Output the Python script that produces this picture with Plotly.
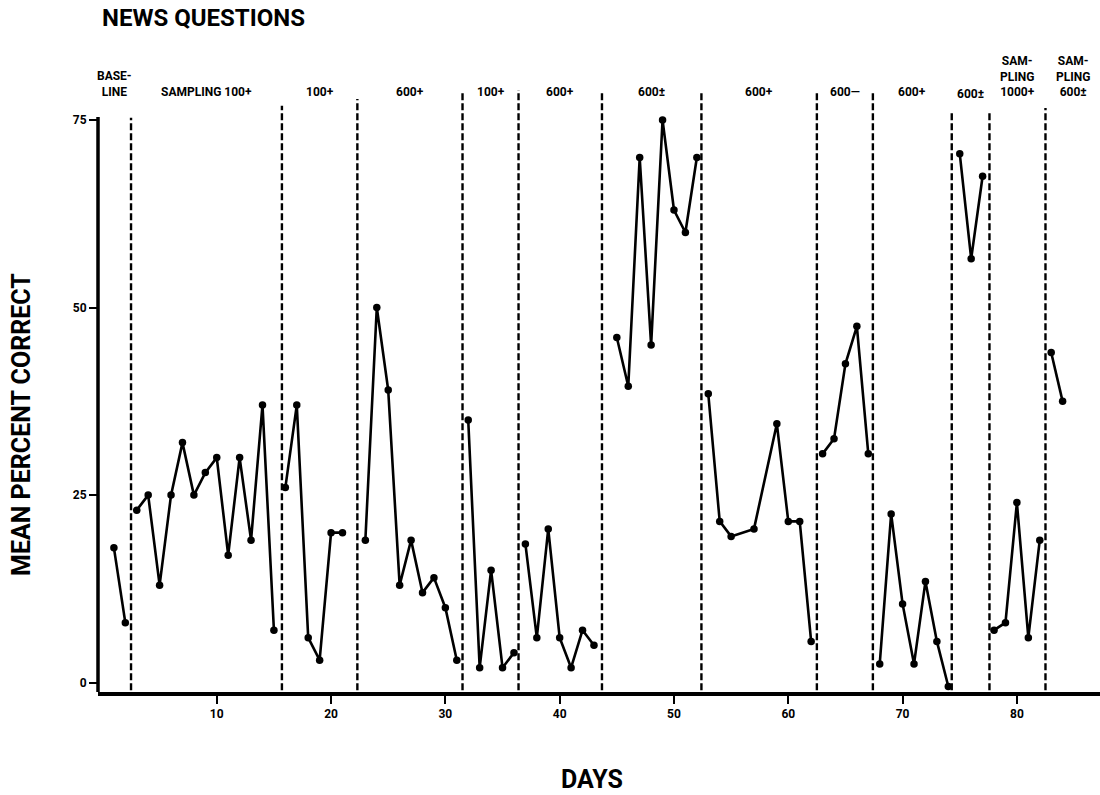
import plotly.graph_objects as go

# ---- data: mean percent correct per day, grouped by experimental phase ----
phase_names = [
    ["BASE-", "LINE"], ["SAMPLING 100+"], ["100+"], ["600+"], ["100+"], ["600+"],
    ["600±"], ["600+"], ["600—"], ["600+"], ["600±"],
    ["SAM-", "PLING", "1000+"], ["SAM-", "PLING", "600±"],
]
phase_days = [
    [1, 2],
    [3, 4, 5, 6, 7, 8, 9, 10, 11, 12, 13, 14, 15],
    [16, 17, 18, 19, 20, 21],
    [23, 24, 25, 26, 27, 28, 29, 30, 31],
    [32, 33, 34, 35, 36],
    [37, 38, 39, 40, 41, 42, 43],
    [45, 46, 47, 48, 49, 50, 51, 52],
    [53, 54, 55, 57, 59, 60, 61, 62],
    [63, 64, 65, 66, 67],
    [68, 69, 70, 71, 72, 73, 74],
    [75, 76, 77],
    [78, 79, 80, 81, 82],
    [83, 84],
]
phase_values = [
    [18, 8],
    [23, 25, 13, 25, 32, 25, 28, 30, 17, 30, 19, 37, 7],
    [26, 37, 6, 3, 20, 20],
    [19, 50, 39, 13, 19, 12, 14, 10, 3],
    [35, 2, 15, 2, 4],
    [18.5, 6, 20.5, 6, 2, 7, 5],
    [46, 39.5, 70, 45, 75, 63, 60, 70],
    [38.5, 21.5, 19.5, 20.5, 34.5, 21.5, 21.5, 5.5],
    [30.5, 32.5, 42.5, 47.5, 30.5],
    [2.5, 22.5, 10.5, 2.5, 13.5, 5.5, -0.5],
    [70.5, 56.5, 67.5],
    [7, 8, 24, 6, 19],
    [44, 37.5],
]
# days at which the phase changes (dashed separators)
phase_breaks = [2.5, 15.7, 22.3, 31.5, 36.4, 43.7, 52.4, 62.5, 67.4, 74.3, 77.6, 82.5]
x_ticks = [10, 20, 30, 40, 50, 60, 70, 80]
y_ticks = [0, 25, 50, 75]

# ---- layout geometry ----
W, H = 1100, 795
M_L, M_R, M_T, M_B = 98, 0, 85, 103
X_RANGE = [-0.39, 87.27]
Y_RANGE = [-1.24, 79.66]
FONT = "Roboto, Liberation Sans, sans-serif"


def fnt(size):
    return dict(family=FONT, size=size, color="black", weight="bold")


def paper_y(py):
    """Convert a pixel row to paper coordinates of the plotting area."""
    return (H - M_B - py) / (H - M_T - M_B)


def paper_x(px):
    return (px - M_L) / (W - M_L - M_R)


# one polyline, broken between phases
xs, ys = [], []
for d, v in zip(phase_days, phase_values):
    xs += d + [None]
    ys += v + [None]

fig = go.Figure()
fig.add_trace(go.Scatter(
    x=xs, y=ys, mode="lines+markers",
    line=dict(color="black", width=2.6),
    marker=dict(color="black", size=7.5),
    connectgaps=False, showlegend=False, hoverinfo="skip",
))

shapes = []
# dashed phase separators; the short phases near the end start lower
sep_tops = [75.3, 76.9, 77.8, 78.9, 79.0, 78.9, 78.6, 78.7, 78.7, 76.3, 76.3, 76.6]
for bx, top in zip(phase_breaks, sep_tops):
    shapes.append(dict(type="line", xref="x", yref="y", x0=bx, x1=bx, y0=-1.0, y1=top,
                       line=dict(color="black", width=2.4, dash="7px,3px")))
# vertical axis line (stops at the 75 mark)
shapes.append(dict(type="line", xref="paper", yref="y", x0=0, x1=0, y0=Y_RANGE[0], y1=75.4,
                   line=dict(color="black", width=3.5)))

annotations = []
# phase labels centred over their phase
bounds = [X_RANGE[0]] + phase_breaks + [X_RANGE[1]]
for i, lines in enumerate(phase_names):
    cx = (bounds[i] + bounds[i + 1]) / 2
    bottom = 102 if i == 10 else 100
    annotations.append(dict(
        x=cx, xref="x", y=paper_y(bottom), yref="paper", text="<br>".join(lines),
        showarrow=False, xanchor="center", yanchor="bottom", align="center",
        font=fnt(12), borderpad=0,
    ))

annotations.append(dict(
    x=paper_x(100), y=paper_y(18), xref="paper", yref="paper", text="NEWS QUESTIONS",
    showarrow=False, xanchor="left", yanchor="middle", font=fnt(24),
))
annotations.append(dict(
    x=paper_x(21), y=paper_y(425), xref="paper", yref="paper", text="MEAN PERCENT CORRECT",
    showarrow=False, xanchor="center", yanchor="middle", textangle=-90, font=fnt(25),
))
annotations.append(dict(
    x=paper_x(592), y=paper_y(779), xref="paper", yref="paper", text="DAYS",
    showarrow=False, xanchor="center", yanchor="middle", font=fnt(25),
))

fig.update_layout(
    width=W, height=H,
    margin=dict(l=M_L, r=M_R, t=M_T, b=M_B, pad=0),
    paper_bgcolor="white", plot_bgcolor="white",
    shapes=shapes, annotations=annotations,
    xaxis=dict(
        range=X_RANGE, showgrid=False, zeroline=False,
        showline=True, linecolor="black", linewidth=4,
        ticks="outside", ticklen=8, tickwidth=2, tickcolor="black",
        tickvals=x_ticks, tickfont=fnt(12),
    ),
    yaxis=dict(
        range=Y_RANGE, showgrid=False, zeroline=False, showline=False,
        ticks="outside", ticklen=8, tickwidth=2, tickcolor="black",
        tickvals=y_ticks, tickfont=fnt(12),
    ),
)

fig.write_html("out.html")
